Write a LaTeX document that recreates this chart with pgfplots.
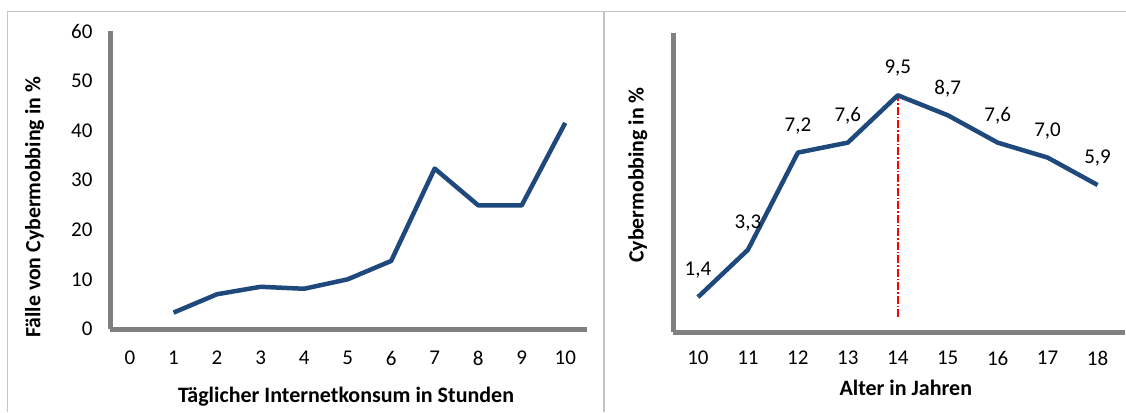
\documentclass[border=0pt]{standalone}
\usepackage{pgfplots}
\pgfplotsset{compat=1.18}
\usepackage{fontspec}
\setmainfont{Carlito}
\definecolor{lineblue}{HTML}{1F497D}
\definecolor{axgray}{HTML}{808080}
\definecolor{framegray}{HTML}{C4C4C4}
\begin{document}
\begin{tikzpicture}
\useasboundingbox (0,0) rectangle (1126pt,412pt);
\draw[framegray, line width=1.6pt] (7.5pt,0) -- (7.5pt,400.5pt) -- (1126pt,400.5pt);
\draw[framegray, line width=1.6pt] (604pt,0) -- (604pt,400.5pt);
\pgfplotsset{
  mystyle/.style={
    scale only axis,
    axis x line*=bottom, axis y line*=left,
    axis line style={-, line width=5pt, color=axgray},
    major tick length=0pt,
    tick label style={font=\fontsize{21}{24}\selectfont},
    xlabel style={font=\fontsize{22}{26}\selectfont\bfseries},
    ylabel style={font=\fontsize{21.8}{26}\selectfont\bfseries},
    /pgf/number format/assume math mode=true,
    xticklabel style={anchor=center},
    clip=false,
  }
}
\begin{axis}[mystyle,
  at={(110pt,83pt)}, anchor=south west,
  width=477pt, height=298pt,
  xmin=-0.46, xmax=10.5, ymin=0, ymax=60,
  xtick={0,1,...,10}, ytick={0,10,...,60},
  xticklabel style={yshift=-29pt},
  yticklabel style={anchor=east, xshift=-14pt},
  xlabel={Täglicher Internetkonsum in Stunden},
  ylabel={Fälle von Cybermobbing in \%},
  xlabel style={at={(axis description cs:0.495,0)}, anchor=center, yshift=-68pt},
  ylabel style={at={(axis description cs:-0.158,0.408)}, anchor=center},
]
\addplot[lineblue, line width=4.5pt, line join=round] coordinates {
  (1,3.3) (2,7.0) (3,8.5) (4,8.1) (5,10.0) (6,13.7) (7,32.3) (8,24.9) (9,24.9) (10,41.5)
};
\end{axis}
\begin{axis}[mystyle,
  at={(673pt,80pt)}, anchor=south west,
  width=452pt, height=299pt,
  xmin=9.5, xmax=18.55, ymin=0, ymax=12,
  xtick={10,11,...,18}, ytick=\empty,
  xticklabel style={yshift=-26pt},
  xlabel={Alter in Jahren},
  ylabel={Cybermobbing in \%},
  xlabel style={at={(axis description cs:0.515,0)}, anchor=center, yshift=-56pt},
  ylabel style={at={(axis description cs:-0.078,0.525)}, anchor=center},
]
\addplot[red, line width=1.5pt, dash pattern=on 8pt off 2pt on 1.5pt off 2pt] coordinates {(14,0.6) (14,9.5)};
\addplot[lineblue, line width=4.5pt, line join=round,
  point meta=explicit symbolic,
  nodes near coords,
  every node near coord/.append style={anchor=center, yshift=27pt, color=black, font=\fontsize{21}{24}\selectfont}]
  table[meta=label] {
x y label
10 1.4 1,4
11 3.3 3,3
12 7.2 7,2
13 7.6 7,6
14 9.5 9,5
15 8.7 8,7
16 7.6 7,6
17 7.0 7,0
18 5.9 5,9
};
\end{axis}
\end{tikzpicture}
\end{document}
